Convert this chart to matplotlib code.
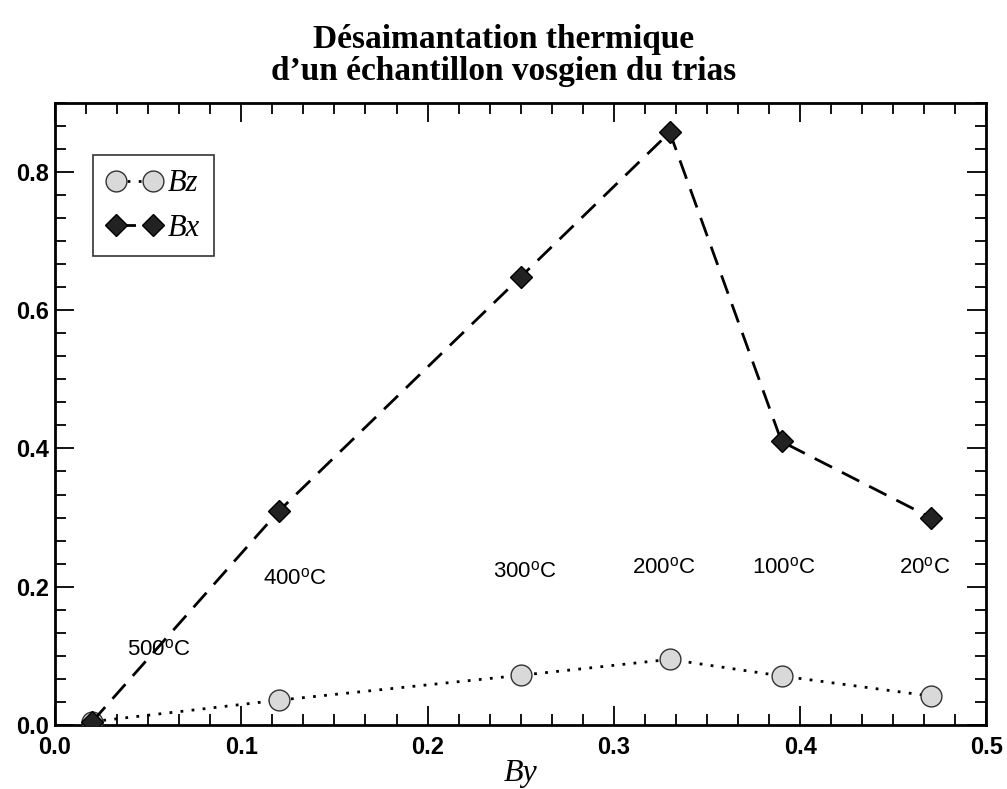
import matplotlib
matplotlib.use("Agg")
import matplotlib.pyplot as plt
from matplotlib.ticker import MultipleLocator, FormatStrFormatter

plt.rcParams['mathtext.fontset'] = 'custom'
plt.rcParams['mathtext.rm'] = 'Liberation Sans'
plt.rcParams['mathtext.it'] = 'Liberation Serif:italic'

# donnees
by = [0.02, 0.12, 0.25, 0.33, 0.39, 0.47]
bz = [0.005, 0.036, 0.072, 0.095, 0.071, 0.042]
bx = [0.005, 0.309, 0.648, 0.857, 0.41, 0.30]
temp_labels = ['500', '400', '300', '200', '100', '20']
temp_x = [0.056, 0.129, 0.252, 0.327, 0.391, 0.467]
temp_y = [0.108, 0.211, 0.221, 0.227, 0.227, 0.227]

fig = plt.figure(figsize=(10.07, 7.89), dpi=100)
ax = fig.add_axes([0.0546, 0.081, 0.925, 0.789])

ax.plot(by, bz, linestyle=(0, (1, 3)), color='black', lw=2,
        marker='o', markersize=15, markerfacecolor='#d9d9d9',
        markeredgecolor='#333333', markeredgewidth=1, label='Bz', zorder=3)
ax.plot(by, bx, linestyle=(0, (7, 4)), color='black', lw=2,
        marker='D', markersize=11, markerfacecolor='#222222',
        markeredgecolor='black', markeredgewidth=1, label='Bx', zorder=3)

for t, x, y in zip(temp_labels, temp_x, temp_y):
    ax.text(x, y, t + r'$^{\mathrm{o}}$C', ha='center', va='center',
            fontsize=16, family='Liberation Sans')

ax.set_xlim(0, 0.5)
ax.set_ylim(0, 0.9)
ax.xaxis.set_major_locator(MultipleLocator(0.1))
ax.xaxis.set_minor_locator(MultipleLocator(0.1 / 6))
ax.yaxis.set_major_locator(MultipleLocator(0.2))
ax.yaxis.set_minor_locator(MultipleLocator(0.2 / 6))
ax.xaxis.set_major_formatter(FormatStrFormatter('%.1f'))
ax.yaxis.set_major_formatter(FormatStrFormatter('%.1f'))
ax.tick_params(which='both', direction='in', top=True, right=True, width=1.3)
ax.tick_params(which='major', length=14)
ax.tick_params(which='minor', length=8)
for s in ax.spines.values():
    s.set_linewidth(2)

for lab in ax.get_xticklabels() + ax.get_yticklabels():
    lab.set_fontfamily('Liberation Sans')
    lab.set_fontweight('bold')
    lab.set_fontsize(17)
ax.tick_params(axis='x', pad=8)
ax.tick_params(axis='y', pad=4)

ax.set_xlabel('By', fontsize=23, family='Liberation Serif', style='italic', labelpad=0)

fig.suptitle("Désaimantation thermique\nd’un échantillon vosgien du trias",
             fontsize=24, fontweight='bold', family='Liberation Serif',
             y=0.97, linespacing=1.05)

leg = ax.legend(loc='upper left', bbox_to_anchor=(0.041, 0.915), numpoints=2,
                handlelength=1.8, fontsize=22, frameon=True, fancybox=False,
                edgecolor='black', borderpad=0.45, labelspacing=0.5,
                handletextpad=0.2, borderaxespad=0)
leg.get_frame().set_linewidth(1.2)
for t in leg.get_texts():
    t.set_fontfamily('Liberation Serif')
    t.set_fontstyle('italic')

fig.savefig('out.png', dpi=100)
